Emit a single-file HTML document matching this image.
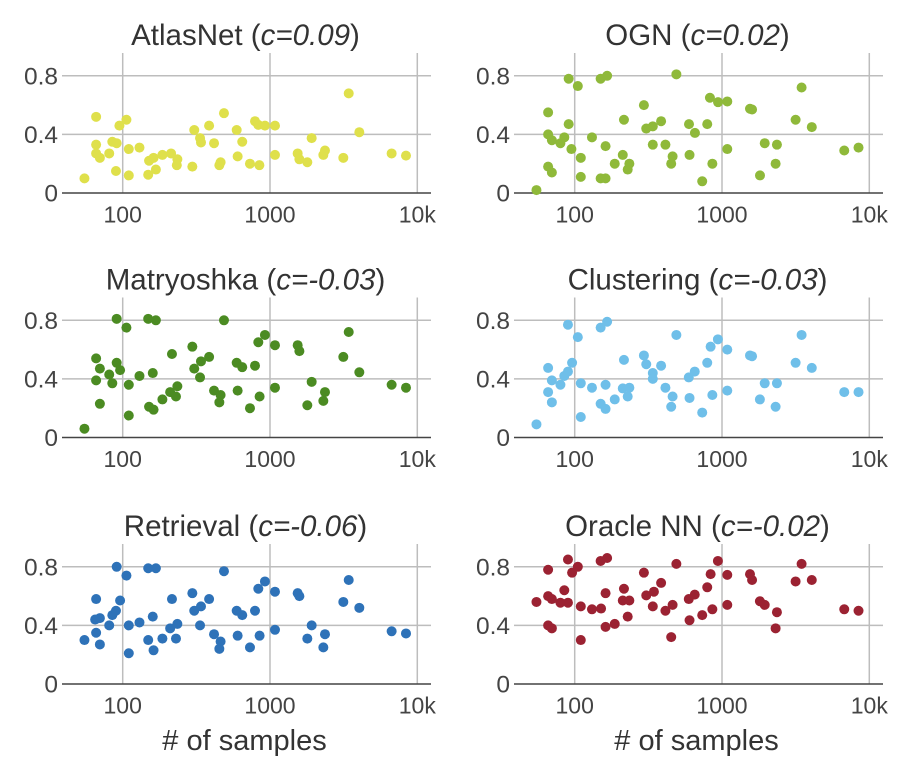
<!DOCTYPE html>
<html><head><meta charset="utf-8">
<style>
html,body{margin:0;padding:0;background:#fff;}
svg{display:block;font-family:"Liberation Sans",sans-serif;}
</style></head>
<body>
<svg id="chart" width="914" height="766" viewBox="0 0 914 766" xmlns="http://www.w3.org/2000/svg"></svg>
<script>
const titles = ["AtlasNet","OGN","Matryoshka","Clustering","Retrieval","Oracle NN"];
const corr = ["0.09","0.02","-0.03","-0.03","-0.06","-0.02"];
const colors = ["#dfe04b","#8fb93a","#4b8b22","#6fbfe9","#2e72b8","#9b2232"];
const xTicks = [100,1000,10000];
const xTickLabels = ["100","1000","10k"];
const yTicks = [0,0.4,0.8];
const yTickLabels = ["0","0.4","0.8"];

const atlasX = [55,66,66,66,70,81,85,91,90,95,106,110,110,130,149,151,162,168,186,213,235,233,297,306,335,340,386,417,453,462,487,594,603,648,731,791,847,833,924,1081,1081,1541,1583,1792,1918,2302,2362,3146,3423,4040,6695,8380];
const atlasY = [0.10,0.52,0.33,0.27,0.24,0.27,0.35,0.34,0.15,0.46,0.50,0.30,0.12,0.31,0.125,0.22,0.24,0.16,0.26,0.27,0.23,0.19,0.18,0.43,0.375,0.345,0.46,0.34,0.19,0.21,0.545,0.43,0.25,0.35,0.20,0.49,0.19,0.465,0.46,0.46,0.26,0.27,0.23,0.21,0.375,0.26,0.29,0.24,0.68,0.415,0.27,0.255];

const ognX = [55,66,66,66,70,70,80,85,91,91,95,105,110,110,131,150,166,150,162,162,187,212,216,235,229,295,306,339,339,386,413,452,462,490,597,602,655,734,794,828,860,940,1086,1086,1549,1600,1811,1950,2312,2360,3160,3470,4070,6760,8450];
const ognY = [0.02,0.55,0.40,0.18,0.36,0.14,0.34,0.38,0.78,0.47,0.30,0.73,0.24,0.11,0.38,0.78,0.80,0.10,0.10,0.32,0.20,0.26,0.50,0.20,0.16,0.60,0.44,0.455,0.33,0.49,0.33,0.20,0.25,0.81,0.47,0.26,0.41,0.08,0.47,0.65,0.20,0.62,0.625,0.30,0.575,0.57,0.12,0.34,0.20,0.33,0.50,0.72,0.45,0.29,0.31];

const matX = [55,66,66,70,70,81,85,91,91,96,106,110,110,130,149,168,160,151,162,186,210,216,230,235,297,306,340,335,386,417,462,453,487,594,603,648,731,791,833,850,924,1081,1081,1541,1583,1792,1918,2302,2362,3146,3423,4040,6695,8380];
const matY = [0.06,0.54,0.39,0.47,0.23,0.43,0.37,0.81,0.51,0.46,0.75,0.36,0.15,0.42,0.81,0.80,0.44,0.21,0.19,0.26,0.31,0.57,0.28,0.35,0.62,0.47,0.52,0.41,0.55,0.32,0.29,0.24,0.80,0.51,0.32,0.48,0.20,0.49,0.65,0.28,0.70,0.63,0.34,0.63,0.59,0.22,0.38,0.25,0.31,0.55,0.72,0.445,0.36,0.34];

const cluX = [55,66,66,70,70,80,85,90,90,96,105,110,110,131,150,166,162,150,162,187,212,216,235,229,295,306,339,339,386,413,462,452,490,595,653,602,734,794,837,860,938,1086,1086,1549,1600,1808,1950,2312,2360,3160,3470,4070,6760,8450];
const cluY = [0.09,0.475,0.31,0.39,0.24,0.36,0.42,0.45,0.77,0.51,0.685,0.37,0.14,0.34,0.75,0.79,0.36,0.23,0.195,0.26,0.335,0.53,0.34,0.28,0.56,0.50,0.44,0.40,0.49,0.34,0.28,0.21,0.70,0.41,0.45,0.27,0.17,0.51,0.62,0.29,0.67,0.60,0.32,0.56,0.555,0.26,0.37,0.21,0.37,0.51,0.70,0.475,0.31,0.31];

const retX = [55,66,65,70,70,66,81,85,90,91,96,106,110,110,130,149,168,160,149,162,186,210,216,235,230,297,306,340,335,386,417,462,453,487,594,603,648,731,791,833,850,924,1081,1081,1541,1583,1792,1918,2302,2362,3146,3423,4040,6695,8380];
const retY = [0.30,0.35,0.44,0.45,0.27,0.58,0.40,0.47,0.50,0.80,0.57,0.74,0.40,0.21,0.42,0.79,0.79,0.46,0.30,0.23,0.31,0.38,0.58,0.41,0.31,0.62,0.50,0.53,0.40,0.58,0.34,0.29,0.24,0.77,0.50,0.33,0.47,0.25,0.50,0.65,0.33,0.70,0.63,0.37,0.62,0.60,0.31,0.40,0.25,0.34,0.56,0.71,0.52,0.36,0.345];

const oraX = [55,66,66,70,66,70,80,85,90,90,96,105,110,110,131,150,166,162,151,162,187,212,216,235,229,295,306,339,345,386,413,462,452,490,595,653,602,734,794,837,860,938,1086,1086,1549,1600,1808,1950,2312,2360,3160,3470,4070,6760,8450];
const oraY = [0.56,0.78,0.60,0.58,0.40,0.38,0.555,0.64,0.555,0.85,0.76,0.80,0.53,0.30,0.51,0.84,0.86,0.62,0.515,0.39,0.41,0.57,0.65,0.57,0.46,0.76,0.605,0.53,0.63,0.69,0.50,0.54,0.32,0.82,0.58,0.61,0.435,0.47,0.66,0.75,0.51,0.84,0.745,0.54,0.75,0.71,0.565,0.54,0.38,0.49,0.70,0.82,0.71,0.51,0.50];

const seriesX = [atlasX,ognX,matX,cluX,retX,oraX];
const seriesY = [atlasY,ognY,matY,cluY,retY,oraY];

const NS = "http://www.w3.org/2000/svg";
const svg = document.getElementById("chart");
function mk(tag, attrs, parent){
  const e = document.createElementNS(NS, tag);
  for (const k in attrs) e.setAttribute(k, attrs[k]);
  (parent||svg).appendChild(e);
  return e;
}
const axisYs = [193, 437.5, 684];
for (let p = 0; p < 6; p++) {
  const col = p % 2, row = Math.floor(p / 2);
  const left = 62 + col * 452, right = left + 369;
  const axisY = axisYs[row];
  const xs = v => left + 60.7 + (Math.log10(v) - 2) * 147.3;
  const ys = v => axisY - v * 146.5;
  const g = mk("g", {});
  
  
  const t = mk("text", {x: (left+right)/2 - 1, y: axisY - 148, "text-anchor": "middle", "font-size": 29.5, fill: "#333"}, g);
  
  
  t.appendChild(document.createTextNode(titles[p] + " ("));
  const it = mk("tspan", {"font-style": "italic"}, t);
  it.textContent = "c=" + corr[p];
  t.appendChild(document.createTextNode(")"));
  yTicks.forEach((v, i) => {
    if (v > 0) {
      const l = mk("line", {x1: left, x2: right, y1: ys(v), y2: ys(v), stroke: "#bdbdbd", "stroke-width": 1.5}, g);
      
      
    }
    const lb = mk("text", {x: left - 4, y: ys(v) + 8.5, "text-anchor": "end", "font-size": 24.5, fill: "#444"}, g);
    
    
    lb.textContent = yTickLabels[i];
  });
  xTicks.forEach((v, i) => {
    const l = mk("line", {x1: xs(v), x2: xs(v), y1: axisY - 140, y2: axisY, stroke: "#bdbdbd", "stroke-width": 1.5}, g);
    
    
    const lb = mk("text", {x: xs(v), y: axisY + 29.5, "text-anchor": "middle", "font-size": 23, fill: "#444"}, g);
    
    
    lb.textContent = xTickLabels[i];
  });
  const ax = mk("line", {x1: left, x2: right, y1: axisY, y2: axisY, stroke: "#444", "stroke-width": 1.5}, g);
  
  
  const X = seriesX[p], Y = seriesY[p];
  for (let i = 0; i < X.length; i++) {
    const c = mk("circle", {cx: xs(X[i]), cy: ys(Y[i]), r: 5, fill: colors[p]}, g);
    
    
  }
  if (row === 2) {
    const xt = mk("text", {x: (left+right)/2 - 2, y: 750, "text-anchor": "middle", "font-size": 29, fill: "#333"}, g);
    
    
    xt.textContent = "# of samples";
  }
}
</script>
</body></html>
